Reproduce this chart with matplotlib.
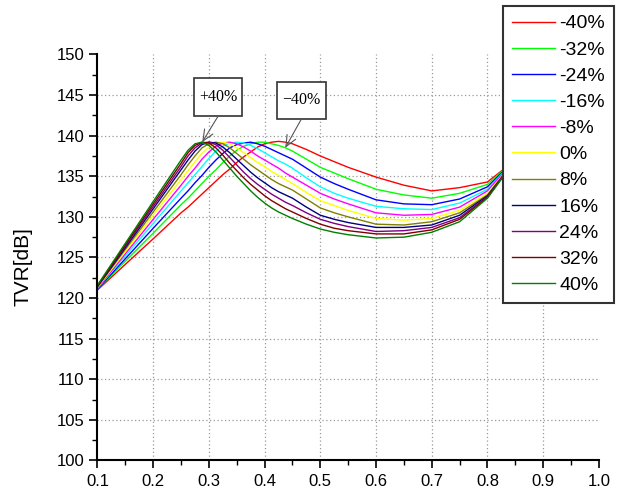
import numpy as np
import matplotlib.pyplot as plt
from matplotlib.patches import Rectangle
from matplotlib.ticker import MultipleLocator

# x positions shared by all curves (denser around the peaks)
x = [0.10, 0.20, 0.25, 0.2625, 0.275, 0.2875, 0.30, 0.3125, 0.325, 0.3375,
     0.35, 0.3625, 0.375, 0.3875, 0.40, 0.4125, 0.425, 0.4375, 0.45, 0.475,
     0.50, 0.525, 0.55, 0.60, 0.65, 0.70, 0.75, 0.80, 0.85]

# TVR values, one list per variation
tvr_m40 = [121.0, 127.3, 130.5, 131.2, 132.0, 132.8, 133.6, 134.4, 135.2, 135.9,
           136.7, 137.4, 138.0, 138.6, 139.0, 139.2, 139.3, 139.2, 139.0, 138.3,
           137.5, 136.8, 136.1, 134.9, 133.9, 133.2, 133.6, 134.3, 137.0]
tvr_m32 = [121.1, 128.0, 131.5, 132.3, 133.2, 134.1, 135.0, 135.8, 136.7, 137.5,
           138.2, 138.7, 139.0, 139.2, 139.2, 139.0, 138.8, 138.5, 138.1, 137.1,
           136.1, 135.4, 134.7, 133.4, 132.7, 132.3, 132.9, 134.0, 137.1]
tvr_m24 = [121.1, 128.6, 132.3, 133.2, 134.2, 135.1, 136.1, 137.0, 137.8, 138.5,
           138.9, 139.1, 139.2, 139.0, 138.7, 138.3, 137.9, 137.5, 137.1, 136.0,
           134.9, 134.1, 133.4, 132.1, 131.6, 131.5, 132.2, 133.7, 137.1]
tvr_m16 = [121.2, 129.2, 133.2, 134.2, 135.2, 136.2, 137.2, 138.1, 138.7, 139.1,
           139.2, 139.1, 138.8, 138.4, 137.9, 137.4, 136.9, 136.5, 136.0, 134.8,
           133.7, 132.9, 132.3, 131.3, 131.0, 130.9, 131.7, 133.4, 137.1]
tvr_m8 = [121.2, 129.7, 133.9, 135.0, 136.0, 137.1, 138.0, 138.7, 139.1, 139.2,
          139.0, 138.6, 138.1, 137.5, 137.0, 136.5, 136.0, 135.4, 134.9, 133.9,
          132.9, 132.2, 131.6, 130.5, 130.2, 130.3, 131.2, 133.2, 137.1]
tvr_0 = [121.3, 130.2, 134.6, 135.7, 136.8, 137.8, 138.6, 139.1, 139.2, 139.0,
         138.5, 137.9, 137.3, 136.7, 136.2, 135.6, 135.1, 134.6, 134.1, 133.0,
         132.0, 131.4, 130.8, 129.8, 129.6, 129.8, 130.8, 132.9, 137.0]
tvr_p8 = [121.4, 130.6, 135.2, 136.4, 137.5, 138.5, 139.0, 139.2, 139.0, 138.5,
          137.8, 137.1, 136.4, 135.8, 135.2, 134.6, 134.1, 133.7, 133.3, 132.2,
          131.1, 130.5, 130.0, 129.1, 129.0, 129.4, 130.5, 132.7, 137.0]
tvr_p16 = [121.4, 131.0, 135.8, 137.0, 138.1, 138.9, 139.2, 139.1, 138.6, 137.9,
           137.1, 136.3, 135.5, 134.8, 134.2, 133.6, 133.1, 132.7, 132.3, 131.2,
           130.2, 129.7, 129.3, 128.7, 128.7, 129.0, 130.2, 132.6, 137.0]
tvr_p24 = [121.5, 131.3, 136.2, 137.5, 138.5, 139.1, 139.2, 138.9, 138.2, 137.3,
           136.4, 135.5, 134.7, 134.0, 133.4, 132.8, 132.3, 131.8, 131.4, 130.5,
           129.7, 129.2, 128.8, 128.2, 128.3, 128.7, 129.9, 132.5, 137.0]
tvr_p32 = [121.5, 131.6, 136.6, 137.9, 138.8, 139.2, 139.1, 138.5, 137.6, 136.6,
           135.7, 134.8, 134.0, 133.3, 132.6, 132.0, 131.5, 131.0, 130.6, 129.8,
           129.1, 128.6, 128.3, 127.9, 127.9, 128.4, 129.7, 132.4, 137.0]
tvr_p40 = [121.6, 131.9, 137.0, 138.2, 139.0, 139.2, 138.8, 138.0, 137.0, 136.0,
           135.0, 134.1, 133.2, 132.4, 131.7, 131.1, 130.6, 130.2, 129.8, 129.1,
           128.5, 128.1, 127.8, 127.4, 127.5, 128.1, 129.4, 132.3, 137.0]

series = [tvr_m40, tvr_m32, tvr_m24, tvr_m16, tvr_m8, tvr_0,
          tvr_p8, tvr_p16, tvr_p24, tvr_p32, tvr_p40]
labels = ['-40%', '-32%', '-24%', '-16%', '-8%', '0%',
          '8%', '16%', '24%', '32%', '40%']
colors = ['#FF0000', '#00FF00', '#0000FF', '#00FFFF', '#FF00FF', '#FFFF00',
          '#808000', '#000080', '#800080', '#800000', '#008000']

# annotation callouts: text, peak it points at
notes = ['+40%', '\u221240%']
note_peaks = [(0.288, 139.2), (0.437, 138.5)]

plt.rcParams['font.family'] = ['Liberation Sans', 'DejaVu Sans']

fig = plt.figure(figsize=(6.19, 4.93), dpi=100)
ax = fig.add_axes([0.1575, 0.066, 0.810, 0.8235])

lines = []
for y, lab, c in zip(series, labels, colors):
    ln, = ax.plot(x, y, color=c, lw=1.0, label=lab)
    lines.append(ln)

ax.set_xlim(0.1, 1.0)
ax.set_ylim(100, 150)
ax.xaxis.set_major_locator(MultipleLocator(0.1))
ax.xaxis.set_minor_locator(MultipleLocator(0.05))
ax.yaxis.set_major_locator(MultipleLocator(5))
ax.yaxis.set_minor_locator(MultipleLocator(2.5))
ax.set_xticks(np.round(np.arange(0.1, 1.01, 0.1), 1))
ax.set_xticklabels(['%.1f' % v for v in np.arange(0.1, 1.01, 0.1)])

for s in ['top', 'right']:
    ax.spines[s].set_visible(False)
for s in ['left', 'bottom']:
    ax.spines[s].set_linewidth(1.5)

ax.tick_params(which='major', direction='out', length=6, width=1.2, labelsize=12)
ax.tick_params(which='minor', direction='out', length=3.5, width=1.0)

# dotted grid on the inner major ticks only
for v in np.arange(0.2, 0.95, 0.1):
    ax.axvline(v, color='#999999', lw=0.9, ls=(0, (1, 2)), zorder=0)
for v in np.arange(105, 146, 5):
    ax.axhline(v, color='#999999', lw=0.9, ls=(0, (1, 2)), zorder=0)

ax.set_ylabel('TVR[dB]', fontsize=15)
ax.yaxis.set_label_coords(-0.129, 0.477)

# boxed callouts with thin arrows
boxes = [(0.2733, 142.4, 0.0863, 4.7), (0.4224, 142.1, 0.088, 4.5)]
for txt, (px, py), (bx, by, bw, bh) in zip(notes, note_peaks, boxes):
    ax.add_patch(Rectangle((bx, by), bw, bh, fc='white', ec='#333333',
                           lw=1.2, zorder=5))
    ax.text(bx + bw / 2, by + bh / 2, txt, ha='center', va='center',
            fontsize=11.5, family='Liberation Serif', zorder=6)
    ax.annotate('', xy=(px, py), xytext=(bx + bw / 2, by),
                arrowprops=dict(arrowstyle='->,head_length=0.8,head_width=0.35',
                                color='#555555', lw=0.8, shrinkA=0, shrinkB=0),
                zorder=6)

leg = fig.legend(handles=lines, loc='upper right',
                 bbox_to_anchor=(614 / 619, 1 - 6 / 493), borderaxespad=0,
                 fontsize=14, frameon=True, fancybox=False, edgecolor='#333333',
                 handlelength=2.2, handletextpad=0.25, labelspacing=0.44,
                 borderpad=0.45)
leg.get_frame().set_linewidth(1.5)
leg.get_frame().set_alpha(1)

fig.savefig('out.png', dpi=100)
